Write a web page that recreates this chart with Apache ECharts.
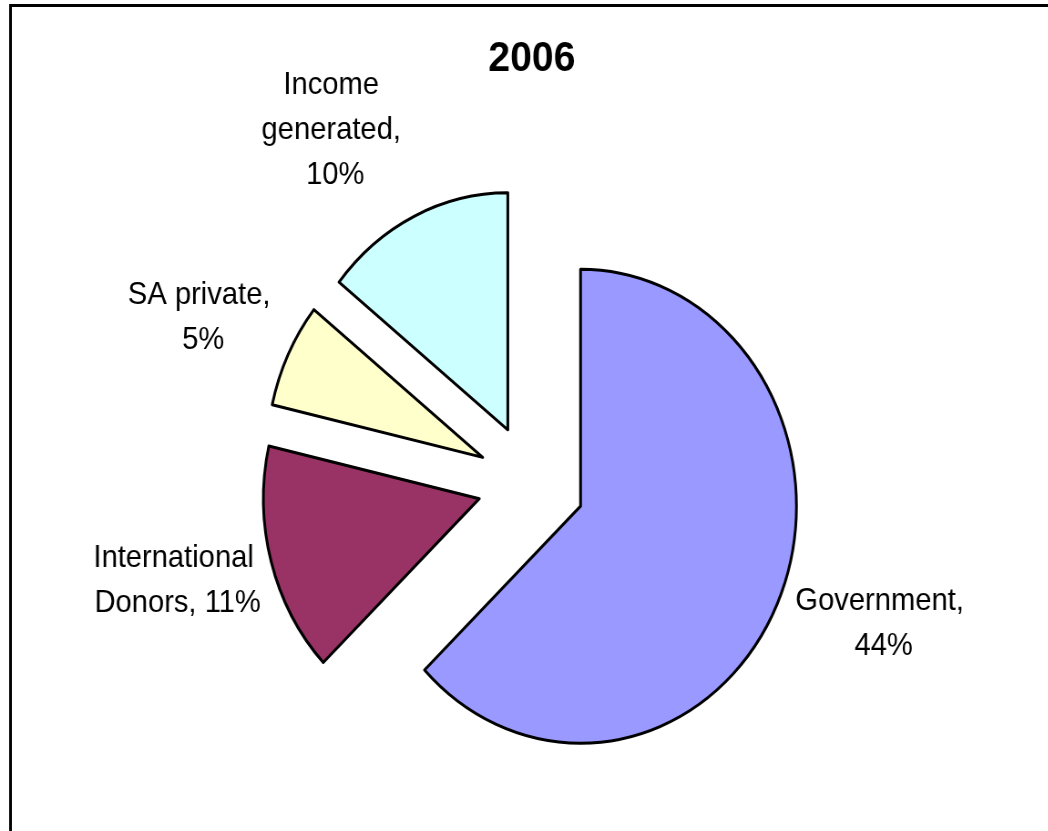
<!DOCTYPE html>
<html><head><meta charset="utf-8">
<script src="https://cdn.jsdelivr.net/npm/echarts@6/dist/echarts.min.js"></script>
<style>
html,body{margin:0;padding:0;background:#fff;overflow:hidden}
#wrap{width:1048px;height:831px;overflow:hidden;position:relative}
#chart{width:1150px;height:831px;transform:scaleX(0.911);transform-origin:0 0}
</style></head>
<body><div id="wrap"><div id="chart"></div></div>
<script>
const chartTitle = '2006';
const categories = ['Government', 'International Donors', 'SA private', 'Income generated'];
const values = [44, 11, 5, 10];
const colors = ['#9999FF', '#993366', '#FFFFCC', '#CCFFFF'];
// label anchor points in chart coordinates (presentation only)
const labelAnchors = [[970, 624], [195, 581], [223, 318], [368, 130]];

const FONT = "Arial, 'Liberation Sans', sans-serif";
const labelTexts = categories.map((n, i) => n + ', ' + values[i] + '%');

const chart = echarts.init(document.getElementById('chart'), null, {renderer: 'canvas'});
chart.setOption({
  animation: false,
  backgroundColor: '#ffffff',
  title: {
    text: chartTitle,
    left: 536,
    top: 38,
    padding: 0,
    textStyle: {fontFamily: FONT, fontSize: 43, fontWeight: 'bold', color: '#000'}
  },
  graphic: [{
    type: 'rect',
    shape: {x: 11.5, y: 5.5, width: 3000, height: 3000},
    style: {fill: 'none', stroke: '#000', lineWidth: 3},
    silent: true
  }].concat(labelTexts.map((t, i) => ({
    type: 'text',
    x: labelAnchors[i][0],
    y: labelAnchors[i][1],
    silent: true,
    style: {
      text: t,
      fontFamily: FONT,
      fontSize: 32,
      lineHeight: 45,
      fill: '#000',
      width: 200,
      overflow: 'break',
      align: 'center',
      verticalAlign: 'middle'
    }
  }))),
  series: [{
    type: 'pie',
    center: [583, 483],
    radius: 237,
    startAngle: 90,
    clockwise: true,
    selectedMode: 'multiple',
    selectedOffset: 59,
    avoidLabelOverlap: false,
    emphasis: {disabled: true},
    itemStyle: {borderColor: '#000', borderWidth: 3},
    data: categories.map((n, i) => ({name: n, value: values[i], selected: true, itemStyle: {color: colors[i]}})),
    label: {show: false},
    labelLine: {show: false}
  }]
});
</script></body></html>
